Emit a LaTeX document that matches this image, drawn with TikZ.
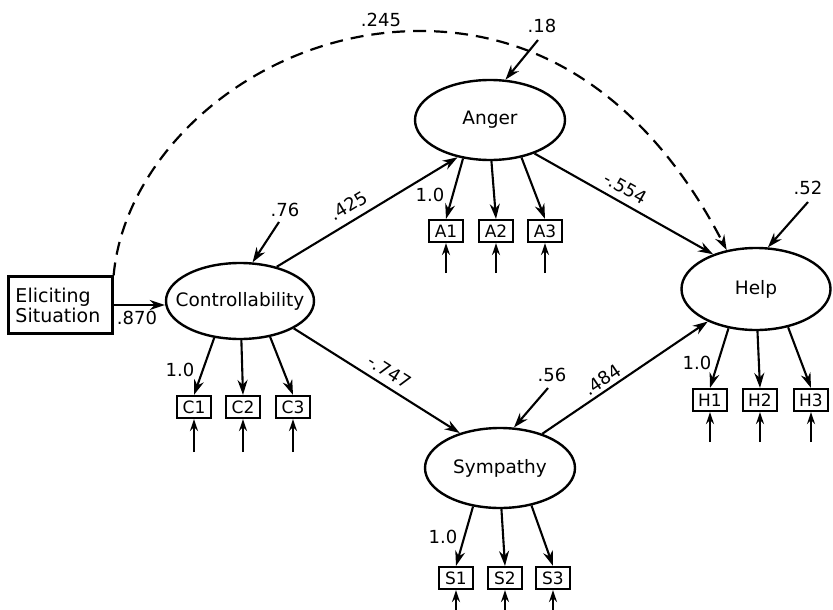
\documentclass[tikz,border=0pt]{standalone}
\usepackage{fontspec}
\setmainfont{DejaVu Sans}
\usetikzlibrary{arrows.meta,shapes.geometric,calc}
\begin{document}
\begin{tikzpicture}[x=1pt,y=-1pt,
  lat/.style={ellipse, draw, line width=2.4pt, minimum width=150pt, minimum height=80pt, inner sep=0pt},
  latlabel/.style={font=\fontsize{18.5}{18.5}\selectfont},
  ind/.style={draw, line width=2.2pt, minimum width=34pt, minimum height=22pt, inner sep=1pt, font=\fontsize{17}{17}\selectfont},
  arr/.style={line width=2.1pt, -{Stealth[length=15pt,width=10pt]}},
  errarr/.style={line width=2.1pt, -{Stealth[length=12pt,width=8pt]}},
  dasharr/.style={line width=2.2pt, dash pattern=on 13pt off 8pt, -{Stealth[length=15pt,width=10pt]}},
  num/.style={font=\fontsize{18}{18}\selectfont, inner sep=0pt}
]
\useasboundingbox (0,0) rectangle (833,610);

% source box
\node[draw, line width=2.2pt, text width=90pt, align=left, inner xsep=7pt, minimum height=57pt,
      font=\fontsize{19}{20}\selectfont] (elic) at (60.5,305) {Eliciting\\Situation};

% latent variables
\node[lat, minimum width=148pt, minimum height=76pt, label={[latlabel]center:Controllability}] (ctrl) at (240,301) {};
\node[lat, label={[latlabel]center:Anger}] (anger) at (490,120) {};
\node[lat, label={[latlabel]center:Sympathy}] (symp) at (500,468) {};
\node[lat, minimum width=149pt, minimum height=82pt, label={[latlabel]center:Help}] (help) at (756,289) {};

% indicators
\node[ind] (C1) at (194,407) {C1};
\node[ind] (C2) at (243,407) {C2};
\node[ind] (C3) at (293,407) {C3};
\node[ind] (A1) at (446,231) {A1};
\node[ind] (A2) at (496,231) {A2};
\node[ind] (A3) at (545,231) {A3};
\node[ind] (S1) at (456,578) {S1};
\node[ind] (S2) at (505,578) {S2};
\node[ind] (S3) at (553,578) {S3};
\node[ind] (H1) at (710,400) {H1};
\node[ind] (H2) at (760,400) {H2};
\node[ind] (H3) at (811,400) {H3};

% structural paths
\draw[arr] (elic.east) -- (elic.east -| ctrl.west);
\draw[arr] (ctrl.43) -- node[num, sloped, above=7pt, pos=0.44] (l425) {.425} (anger.229);
\draw[arr] (ctrl.-27) -- node[num, sloped, above=7pt, pos=0.53] (l747) {-.747} (symp.139);
\draw[arr] (anger.-37) -- node[num, sloped, above=7pt, pos=0.47] (l554) {-.554} (help.141);
\draw[arr] (symp.39) -- node[num, sloped, above=3pt, pos=0.4] (l484) {.484} (help.214);

% dashed direct path
\coordinate (peak) at (420,31);
\draw[dasharr] (elic.north east) .. controls (125,150) and (260,31) .. (peak)
  .. controls (570,31) and (666,133) .. (help.127);

% loadings
\foreach \L/\I in {ctrl/C, anger/A, symp/S, help/H}{
  \draw[arr] (\L.235) -- (\I1.north);
  \draw[arr] (\L.-88) -- (\I2.north);
  \draw[arr] (\L.-50) -- (\I3.north);
}

% measurement error arrows
\foreach \I in {C1,C2,C3}{
  \coordinate (e\I) at ([yshift=-33pt]\I.south);
  \draw[errarr] (e\I) -- (\I.south);
}
\foreach \I in {A1,A2,A3,H1,H2,H3}{
  \coordinate (e\I) at ([yshift=-30pt]\I.south);
  \draw[errarr] (e\I) -- (\I.south);
}
\foreach \I in {S1,S2,S3}{
  \coordinate (e\I) at ([yshift=-22pt]\I.south);
  \draw[errarr] (e\I) -- (\I.south);
}

% disturbances
\coordinate (d76) at (279,222);
\coordinate (d18) at (538,40);
\coordinate (d56) at (548,388);
\coordinate (d52) at (808,202);
\draw[arr] (d76) -- (ctrl.72);
\draw[arr] (d18) -- (anger.69);
\draw[arr] (d56) -- (symp.71);
\draw[arr] (d52) -- (help.74);

% numbers
\node[num] (l870) at (137,318) {.870};
\node[num] (l245) at (381,20) {.245};
\node[num] (l18) at (542,26) {.18};
\node[num] (l76) at (285,210) {.76};
\node[num] (l56) at (552,375) {.56};
\node[num] (l52) at (808,188) {.52};
\node[num] (oneC) at (180,370) {1.0};
\node[num] (oneA) at (430,195) {1.0};
\node[num] (oneS) at (443,537) {1.0};
\node[num] (oneH) at (697,363) {1.0};
\end{tikzpicture}
\end{document}
